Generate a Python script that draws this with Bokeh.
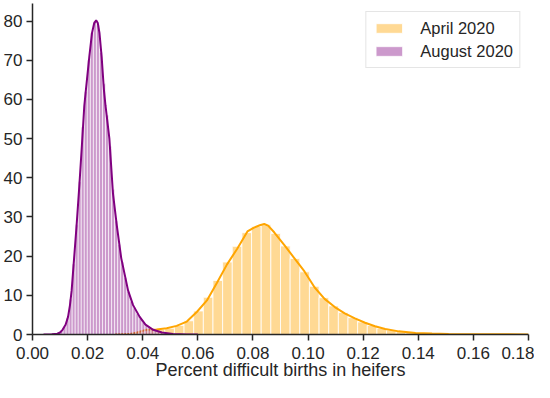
import numpy as np
from bokeh.plotting import figure
from bokeh.models import (Range1d, FixedTicker, NumeralTickFormatter, Legend, LegendItem)
from bokeh.embed import file_html
from bokeh.resources import INLINE

# ---------------- data ----------------
X_TICKS = [0.0, 0.02, 0.04, 0.06, 0.08, 0.10, 0.12, 0.14, 0.16, 0.18]
Y_TICKS = [0, 10, 20, 30, 40, 50, 60, 70, 80]
X_LABEL = "Percent difficult births in heifers"

# April 2020 histogram (density)
april_bin_start = 0.0340
april_bin_width = 0.0035
april_density = [0.15, 0.7, 1.2, 1.3, 1.6, 2.3, 3.5, 6.0, 9.5, 13.8,
                 18.5, 22.5, 26.0, 27.6, 28.0, 25.8, 22.6, 19.4, 16.0, 12.3,
                 9.4, 7.3, 5.6, 4.3, 3.2, 2.3, 1.6, 1.1, 0.8, 0.55,
                 0.4, 0.28, 0.2, 0.14, 0.1, 0.07, 0.05, 0.04, 0.03, 0.02, 0.01]

# August 2020 histogram (density)
august_bin_start = 0.0045
august_bin_width = 0.0011
august_density = [0.02, 0.05, 0.1, 0.2, 0.4, 0.9, 2.0, 4.2, 9.0, 18.0,
                  28.0, 39.0, 53.0, 62.0, 70.0, 77.0, 80.0, 79.0, 72.0, 64.0,
                  56.0, 48.0, 37.0, 29.0, 23.0, 18.5, 14.5, 11.0, 8.5, 6.8,
                  5.3, 4.2, 3.2, 2.4, 1.9, 1.4, 1.05, 0.8, 0.6, 0.42,
                  0.3, 0.2, 0.14, 0.1, 0.07, 0.05, 0.03, 0.02, 0.01, 0.01]

# KDE curves
april_kde_x = [0.030, 0.035, 0.038, 0.0414, 0.045, 0.0487, 0.0523, 0.056, 0.0597, 0.0633,
               0.067, 0.0706, 0.0743, 0.078, 0.0804, 0.0825, 0.0841, 0.0855, 0.0877, 0.0914,
               0.095, 0.0987, 0.1024, 0.106, 0.1097, 0.1133, 0.117, 0.1207, 0.1243, 0.128,
               0.1329, 0.139, 0.145, 0.151, 0.160, 0.170, 0.180]
april_kde_y = [0.0, 0.1, 0.5, 1.2, 1.3, 1.6, 2.2, 3.3, 5.8, 8.7,
               13.3, 17.9, 21.9, 26.3, 27.3, 27.9, 28.2, 27.8, 26.1, 22.8,
               19.5, 16.1, 12.0, 9.1, 7.0, 5.4, 4.1, 3.0, 2.1, 1.4,
               0.8, 0.4, 0.25, 0.15, 0.08, 0.04, 0.02]

august_kde_x = [0.004, 0.007, 0.009, 0.0100, 0.0109, 0.0120, 0.0129, 0.0136, 0.0142, 0.0151,
                0.0160, 0.0170, 0.0179, 0.0188, 0.0194, 0.0206, 0.0216, 0.0224, 0.0231, 0.0237,
                0.0243, 0.0251, 0.0259, 0.0265, 0.0279, 0.0292, 0.0306, 0.0322, 0.0347, 0.0365,
                0.0389, 0.0410, 0.0438, 0.0470, 0.0510, 0.0560, 0.0600]
august_kde_y = [0.0, 0.05, 0.2, 0.5, 1.2, 2.5, 4.5, 7.5, 11.2, 19.5,
                27.8, 38.0, 48.0, 58.4, 62.6, 70.8, 77.0, 79.5, 80.2, 79.5,
                77.0, 70.8, 62.6, 58.4, 50.0, 36.0, 27.8, 19.5, 11.2, 7.5,
                4.5, 2.5, 1.2, 0.5, 0.15, 0.03, 0.0]

SERIES = ["April 2020", "August 2020"]

# ---------------- figure ----------------
FONT = "Liberation Sans"
AX = "#262626"

p = figure(width=534, height=382, output_backend="svg", toolbar_location=None,
           x_range=Range1d(0, 0.18), y_range=Range1d(0, 84.5),
           min_border_left=31, min_border_right=6, min_border_top=3, min_border_bottom=10)
p.outline_line_color = None
p.xgrid.grid_line_color = None
p.ygrid.grid_line_color = None
p.background_fill_color = "white"
p.border_fill_color = "white"

a_left = april_bin_start + april_bin_width * np.arange(len(april_density))
g_left = august_bin_start + august_bin_width * np.arange(len(august_density))

r_a = p.quad(left=a_left, right=a_left + april_bin_width, bottom=0, top=april_density,
             fill_color="orange", fill_alpha=0.42, line_color="white", line_width=1, line_alpha=0.8)
p.line(april_kde_x, april_kde_y, line_color="orange", line_width=2)

r_g = p.quad(left=g_left, right=g_left + august_bin_width, bottom=0, top=august_density,
             fill_color="purple", fill_alpha=0.4, line_color="white", line_width=0.8, line_alpha=0.8)
p.line(august_kde_x, august_kde_y, line_color="purple", line_width=2)

# axes
for ax in (p.xaxis[0], p.yaxis[0]):
    ax.axis_line_color = AX
    ax.axis_line_width = 1.5
    ax.major_tick_line_color = AX
    ax.major_tick_line_width = 1.5
    ax.major_tick_out = 6
    ax.major_tick_in = 0
    ax.minor_tick_line_color = None
    ax.major_label_text_font = FONT
    ax.major_label_text_font_size = "17px"
    ax.major_label_text_color = AX

p.xaxis.major_label_standoff = 6
p.yaxis.major_label_standoff = 4
p.xaxis.ticker = FixedTicker(ticks=X_TICKS)
p.yaxis.ticker = FixedTicker(ticks=Y_TICKS)
p.xaxis.formatter = NumeralTickFormatter(format="0.00")
p.xaxis.axis_label = X_LABEL
p.xaxis.axis_label_text_font = FONT
p.xaxis.axis_label_text_font_size = "18px"
p.xaxis.axis_label_text_font_style = "normal"
p.xaxis.axis_label_text_color = AX
p.xaxis.axis_label_standoff = -2

legend = Legend(items=[LegendItem(label=SERIES[0], renderers=[r_a]),
                       LegendItem(label=SERIES[1], renderers=[r_g])],
                location="top_right")
legend.margin = 8
legend.padding = 6
legend.spacing = 3
legend.glyph_width = 33
legend.glyph_height = 12
legend.label_height = 20
legend.label_standoff = 15
legend.label_text_font = FONT
legend.label_text_font_size = "16.5px"
legend.label_text_color = AX
legend.border_line_color = "#cccccc"
legend.border_line_width = 1
legend.background_fill_alpha = 0.8
p.add_layout(legend)

open("out.html", "w").write(file_html(p, INLINE))
